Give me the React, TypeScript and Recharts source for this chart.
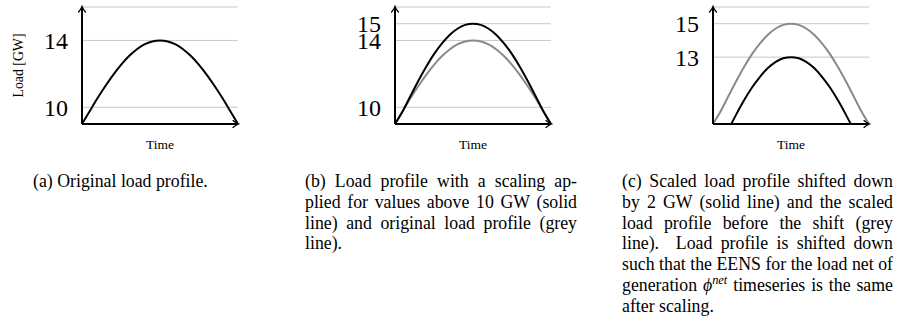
import React from 'react';
import { LineChart, Line, XAxis, YAxis, CartesianGrid } from 'recharts';

const timeSteps = [0, 1, 2, 3, 4, 5, 6, 7, 8, 9, 10, 11, 12, 13, 14, 15, 16, 17, 18, 19, 20];
const originalLoad = [9, 9.78, 10.55, 11.27, 11.94, 12.54, 13.05, 13.46, 13.76, 13.94, 14.0, 13.94, 13.76, 13.46, 13.05, 12.54, 11.94, 11.27, 10.55, 9.78, 9];
const scaledLoad = [9, 9.78, 10.69, 11.59, 12.43, 13.18, 13.81, 14.33, 14.7, 14.93, 15.0, 14.93, 14.7, 14.33, 13.81, 13.18, 12.43, 11.59, 10.69, 9.78, 9];
const shiftedLoad = [7, 7.78, 8.69, 9.59, 10.43, 11.18, 11.81, 12.33, 12.7, 12.93, 13.0, 12.93, 12.7, 12.33, 11.81, 11.18, 10.43, 9.59, 8.69, 7.78, 7];

const ticksA = [10, 14];
const ticksB = [10, 14, 15];
const ticksC = [13, 15];

const yAxisTitle = 'Load [GW]';
const xAxisTitle = 'Time';

const captionA: React.ReactNode[] = ['(a) Original load profile.'];
const captionB: React.ReactNode[] = [
  '(b) Load profile with a scaling ap-',
  'plied for values above 10 GW (solid',
  'line) and original load profile (grey',
  'line).',
];
const captionC: React.ReactNode[] = [
  '(c) Scaled load profile shifted down',
  'by 2 GW (solid line) and the scaled',
  'load profile before the shift (grey',
  'line).\u00a0 Load profile is shifted down',
  'such that the EENS for the load net of',
  <>generation <i>ϕ</i><sup style={{ fontSize: '0.7em', fontStyle: 'italic', lineHeight: 0 }}>net</sup> timeseries is the same</>,
  'after scaling.',
];

const data = timeSteps.map((t, i) => ({
  t,
  original: originalLoad[i],
  scaled: scaledLoad[i],
  shifted: shiftedLoad[i],
}));

const FONT = '"Liberation Serif", "Times New Roman", serif';

type Series = { key: string; color: string };

function Panel({ id, left, ticks, series, showYTitle }: { id: string; left: number; ticks: number[]; series: Series[]; showYTitle: boolean }) {
  const markerId = `arrow-${id}`;
  return (
    <div style={{ position: 'absolute', left, top: 0 }}>
      <LineChart width={250} height={160} data={data} margin={{ top: 7, right: 12, bottom: 0, left: 0 }}>
        <defs>
          <marker id={markerId} viewBox="-7 -5 9 10" refX="0" refY="0" markerWidth="9" markerHeight="10" markerUnits="userSpaceOnUse" orient="auto-start-reverse">
            <path d="M -5 -3.4 Q -1.8 -0.7 0.5 0 Q -1.8 0.7 -5 3.4" fill="none" stroke="#000" strokeWidth={1.3} strokeLinecap="round" />
          </marker>
        </defs>
        <CartesianGrid horizontal vertical={false} stroke="#c8c8c8" strokeWidth={1} />
        <XAxis
          type="number"
          dataKey="t"
          domain={[0, 20]}
          tick={false}
          tickLine={false}
          height={36}
          axisLine={{ stroke: '#000', strokeWidth: 2, markerEnd: `url(#${markerId})` } as any}
          label={{ value: xAxisTitle, position: 'insideTop', offset: 15, fill: '#000', fontSize: 13.5, fontFamily: FONT } as any}
        />
        <YAxis
          type="number"
          domain={[9, 16]}
          allowDataOverflow
          ticks={ticks}
          interval={0}
          width={82}
          tickSize={0}
          tickLine={false}
          tickMargin={14}
          tick={{ fill: '#000', fontSize: 24, fontFamily: FONT }}
          axisLine={{ stroke: '#000', strokeWidth: 2, markerStart: `url(#${markerId})` } as any}
          label={
            showYTitle
              ? ({ value: yAxisTitle, angle: -90, position: 'insideLeft', offset: 18, textAnchor: 'middle', fill: '#000', fontSize: 13.8, fontFamily: FONT } as any)
              : undefined
          }
        />
        {series.map((s) => (
          <Line key={s.key} dataKey={s.key} type="monotone" stroke={s.color} strokeWidth={2} dot={false} isAnimationActive={false} />
        ))}
      </LineChart>
    </div>
  );
}

function Caption({ left, top, width, lines }: { left: number; top: number; width: number; lines: React.ReactNode[] }) {
  return (
    <div style={{ position: 'absolute', left, top, width, fontFamily: FONT, fontSize: 17.8, lineHeight: '20.8px', color: '#000' }}>
      {lines.map((l, i) => (
        <div key={i} style={{ textAlign: 'justify', textAlignLast: i < lines.length - 1 && lines.length > 1 ? 'justify' : 'left', whiteSpace: 'nowrap' }}>
          {l}
        </div>
      ))}
    </div>
  );
}

export default function App() {
  return (
    <div style={{ position: 'absolute', left: 0, top: 0, width: 898, height: 327, background: '#fff', overflow: 'hidden' }}>
      <Panel id="a" left={0} ticks={ticksA} series={[{ key: 'original', color: '#000' }]} showYTitle />
      <Panel id="b" left={313} ticks={ticksB} series={[{ key: 'original', color: '#8a8a8a' }, { key: 'scaled', color: '#000' }]} showYTitle={false} />
      <Panel id="c" left={631} ticks={ticksC} series={[{ key: 'scaled', color: '#8a8a8a' }, { key: 'shifted', color: '#000' }]} showYTitle={false} />
      <Caption left={33} top={171} width={220} lines={captionA} />
      <Caption left={305} top={171} width={272} lines={captionB} />
      <Caption left={622} top={171} width={271} lines={captionC} />
    </div>
  );
}
